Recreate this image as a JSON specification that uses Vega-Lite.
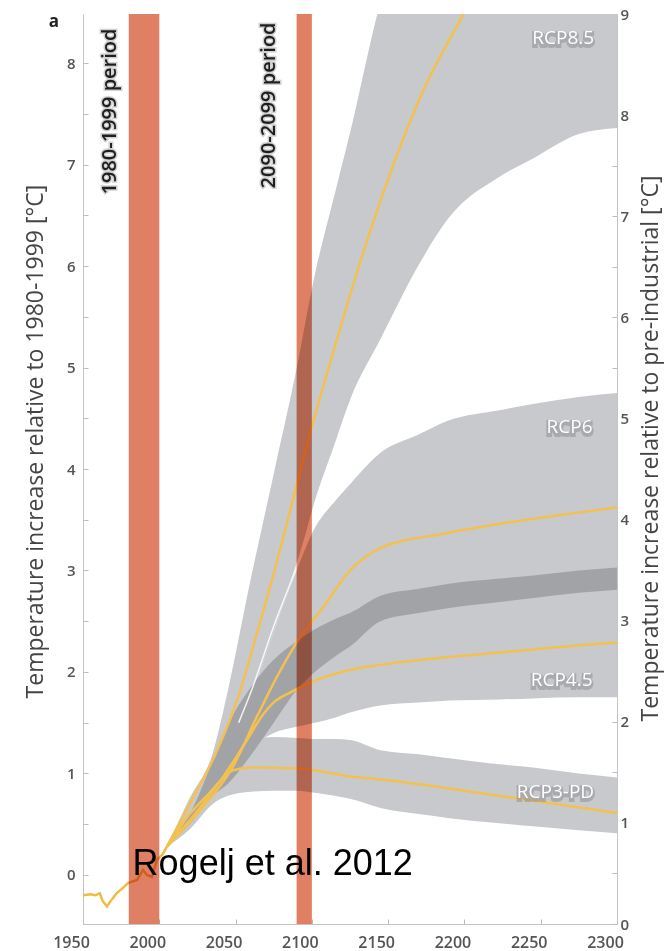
{
  "$schema": "https://vega.github.io/schema/vega-lite/v6.json",
  "width": 534,
  "height": 910,
  "autosize": {"type": "none"},
  "padding": {"left": 83, "top": 14, "right": 52, "bottom": 27},
  "background": "white",
  "config": {"view": {"stroke": null}, "font": "Open Sans"},
  "datasets": {
    "bands": [
      {"s": "RCP8.5", "year": 2005, "lo": 0.28, "hi": 0.28},
      {"s": "RCP8.5", "year": 2020, "lo": 0.55, "hi": 0.76},
      {"s": "RCP8.5", "year": 2035, "lo": 0.95, "hi": 1.2},
      {"s": "RCP8.5", "year": 2045, "lo": 1.25, "hi": 1.82},
      {"s": "RCP8.5", "year": 2060, "lo": 1.74, "hi": 2.92},
      {"s": "RCP8.5", "year": 2075, "lo": 2.4, "hi": 3.95},
      {"s": "RCP8.5", "year": 2090, "lo": 3.03, "hi": 4.99},
      {"s": "RCP8.5", "year": 2102, "lo": 3.69, "hi": 5.92},
      {"s": "RCP8.5", "year": 2115, "lo": 4.25, "hi": 6.71},
      {"s": "RCP8.5", "year": 2125, "lo": 4.68, "hi": 7.31},
      {"s": "RCP8.5", "year": 2145, "lo": 5.28, "hi": 8.6},
      {"s": "RCP8.5", "year": 2170, "lo": 6.01, "hi": 9.6},
      {"s": "RCP8.5", "year": 2190, "lo": 6.48, "hi": 10.2},
      {"s": "RCP8.5", "year": 2223, "lo": 6.88, "hi": 10.8},
      {"s": "RCP8.5", "year": 2245, "lo": 7.06, "hi": 11.1},
      {"s": "RCP8.5", "year": 2275, "lo": 7.3, "hi": 11.5},
      {"s": "RCP8.5", "year": 2300, "lo": 7.36, "hi": 11.8},
      {"s": "RCP6", "year": 2005, "lo": 0.28, "hi": 0.28},
      {"s": "RCP6", "year": 2020, "lo": 0.5, "hi": 0.55},
      {"s": "RCP6", "year": 2035, "lo": 0.78, "hi": 0.95},
      {"s": "RCP6", "year": 2045, "lo": 0.9, "hi": 1.25},
      {"s": "RCP6", "year": 2060, "lo": 1.18, "hi": 1.74},
      {"s": "RCP6", "year": 2075, "lo": 1.5, "hi": 2.4},
      {"s": "RCP6", "year": 2090, "lo": 1.82, "hi": 3.0},
      {"s": "RCP6", "year": 2102, "lo": 2.0, "hi": 3.42},
      {"s": "RCP6", "year": 2115, "lo": 2.15, "hi": 3.68},
      {"s": "RCP6", "year": 2125, "lo": 2.25, "hi": 3.85},
      {"s": "RCP6", "year": 2145, "lo": 2.5, "hi": 4.16},
      {"s": "RCP6", "year": 2170, "lo": 2.58, "hi": 4.34},
      {"s": "RCP6", "year": 2190, "lo": 2.63, "hi": 4.48},
      {"s": "RCP6", "year": 2223, "lo": 2.69, "hi": 4.58},
      {"s": "RCP6", "year": 2245, "lo": 2.73, "hi": 4.64},
      {"s": "RCP6", "year": 2275, "lo": 2.78, "hi": 4.71},
      {"s": "RCP6", "year": 2300, "lo": 2.81, "hi": 4.75},
      {"s": "RCP4.5", "year": 2005, "lo": 0.28, "hi": 0.28},
      {"s": "RCP4.5", "year": 2020, "lo": 0.5, "hi": 0.6},
      {"s": "RCP4.5", "year": 2035, "lo": 0.8, "hi": 1.12},
      {"s": "RCP4.5", "year": 2045, "lo": 0.95, "hi": 1.48},
      {"s": "RCP4.5", "year": 2060, "lo": 1.25, "hi": 1.85},
      {"s": "RCP4.5", "year": 2075, "lo": 1.4, "hi": 2.12},
      {"s": "RCP4.5", "year": 2090, "lo": 1.46, "hi": 2.3},
      {"s": "RCP4.5", "year": 2102, "lo": 1.5, "hi": 2.42},
      {"s": "RCP4.5", "year": 2115, "lo": 1.55, "hi": 2.52},
      {"s": "RCP4.5", "year": 2125, "lo": 1.6, "hi": 2.58},
      {"s": "RCP4.5", "year": 2145, "lo": 1.67, "hi": 2.75},
      {"s": "RCP4.5", "year": 2170, "lo": 1.7, "hi": 2.82},
      {"s": "RCP4.5", "year": 2190, "lo": 1.72, "hi": 2.87},
      {"s": "RCP4.5", "year": 2223, "lo": 1.73, "hi": 2.92},
      {"s": "RCP4.5", "year": 2245, "lo": 1.74, "hi": 2.95},
      {"s": "RCP4.5", "year": 2275, "lo": 1.75, "hi": 3.0},
      {"s": "RCP4.5", "year": 2300, "lo": 1.75, "hi": 3.03},
      {"s": "RCP3-PD", "year": 2005, "lo": 0.28, "hi": 0.28},
      {"s": "RCP3-PD", "year": 2020, "lo": 0.45, "hi": 0.6},
      {"s": "RCP3-PD", "year": 2035, "lo": 0.7, "hi": 0.95},
      {"s": "RCP3-PD", "year": 2045, "lo": 0.78, "hi": 1.2},
      {"s": "RCP3-PD", "year": 2060, "lo": 0.82, "hi": 1.33},
      {"s": "RCP3-PD", "year": 2075, "lo": 0.83, "hi": 1.36},
      {"s": "RCP3-PD", "year": 2090, "lo": 0.83, "hi": 1.35},
      {"s": "RCP3-PD", "year": 2102, "lo": 0.81, "hi": 1.34},
      {"s": "RCP3-PD", "year": 2115, "lo": 0.78, "hi": 1.34},
      {"s": "RCP3-PD", "year": 2125, "lo": 0.75, "hi": 1.33},
      {"s": "RCP3-PD", "year": 2145, "lo": 0.66, "hi": 1.23},
      {"s": "RCP3-PD", "year": 2170, "lo": 0.6, "hi": 1.19},
      {"s": "RCP3-PD", "year": 2190, "lo": 0.56, "hi": 1.15},
      {"s": "RCP3-PD", "year": 2223, "lo": 0.51, "hi": 1.09},
      {"s": "RCP3-PD", "year": 2245, "lo": 0.48, "hi": 1.06},
      {"s": "RCP3-PD", "year": 2275, "lo": 0.44, "hi": 1.0},
      {"s": "RCP3-PD", "year": 2300, "lo": 0.41, "hi": 0.96}
    ],
    "dark": [
      {"year": 2008, "lo": 0.33, "hi": 0.33},
      {"year": 2020, "lo": 0.5, "hi": 0.6},
      {"year": 2035, "lo": 0.78, "hi": 1.12},
      {"year": 2045, "lo": 0.9, "hi": 1.48},
      {"year": 2060, "lo": 1.18, "hi": 1.85},
      {"year": 2075, "lo": 1.5, "hi": 2.12},
      {"year": 2090, "lo": 1.82, "hi": 2.3},
      {"year": 2102, "lo": 2.0, "hi": 2.42},
      {"year": 2115, "lo": 2.15, "hi": 2.52},
      {"year": 2125, "lo": 2.25, "hi": 2.58},
      {"year": 2145, "lo": 2.5, "hi": 2.75},
      {"year": 2170, "lo": 2.58, "hi": 2.82},
      {"year": 2190, "lo": 2.63, "hi": 2.87},
      {"year": 2223, "lo": 2.69, "hi": 2.92},
      {"year": 2245, "lo": 2.73, "hi": 2.95},
      {"year": 2275, "lo": 2.78, "hi": 3.0},
      {"year": 2300, "lo": 2.81, "hi": 3.03}
    ],
    "whiteline": [
      {"year": 2052, "t": 1.5},
      {"year": 2060, "t": 1.8},
      {"year": 2075, "t": 2.45},
      {"year": 2090, "t": 3.05},
      {"year": 2100, "t": 3.55}
    ],
    "hist": [
      {"year": 1950, "t": -0.2},
      {"year": 1955, "t": -0.19},
      {"year": 1958, "t": -0.2},
      {"year": 1961, "t": -0.18},
      {"year": 1963, "t": -0.26},
      {"year": 1965.7, "t": -0.31},
      {"year": 1968, "t": -0.26},
      {"year": 1972, "t": -0.18},
      {"year": 1976, "t": -0.13},
      {"year": 1979.5, "t": -0.08},
      {"year": 1985.4, "t": -0.05},
      {"year": 1989.3, "t": 0.05},
      {"year": 1992, "t": 0.0},
      {"year": 1995.2, "t": -0.02},
      {"year": 1998.5, "t": 0.15},
      {"year": 2002, "t": 0.2},
      {"year": 2005, "t": 0.28}
    ],
    "lines": [
      {"s": "RCP8.5", "year": 2005, "t": 0.28},
      {"s": "RCP8.5", "year": 2020, "t": 0.7},
      {"s": "RCP8.5", "year": 2038, "t": 1.23},
      {"s": "RCP8.5", "year": 2051, "t": 1.72},
      {"s": "RCP8.5", "year": 2064, "t": 2.38},
      {"s": "RCP8.5", "year": 2077, "t": 3.08},
      {"s": "RCP8.5", "year": 2088, "t": 3.72},
      {"s": "RCP8.5", "year": 2097, "t": 4.25},
      {"s": "RCP8.5", "year": 2114, "t": 5.15},
      {"s": "RCP8.5", "year": 2131.5, "t": 6.03},
      {"s": "RCP8.5", "year": 2153, "t": 6.98},
      {"s": "RCP8.5", "year": 2173, "t": 7.73},
      {"s": "RCP8.5", "year": 2199, "t": 8.47},
      {"s": "RCP8.5", "year": 2220, "t": 9.05},
      {"s": "RCP6", "year": 2005, "t": 0.28},
      {"s": "RCP6", "year": 2027, "t": 0.64},
      {"s": "RCP6", "year": 2048, "t": 1.06},
      {"s": "RCP6", "year": 2064, "t": 1.56},
      {"s": "RCP6", "year": 2077, "t": 1.95},
      {"s": "RCP6", "year": 2090, "t": 2.29},
      {"s": "RCP6", "year": 2107, "t": 2.63},
      {"s": "RCP6", "year": 2125, "t": 3.0},
      {"s": "RCP6", "year": 2145, "t": 3.22},
      {"s": "RCP6", "year": 2189, "t": 3.37},
      {"s": "RCP6", "year": 2232, "t": 3.48},
      {"s": "RCP6", "year": 2300, "t": 3.62},
      {"s": "RCP4.5", "year": 2005, "t": 0.28},
      {"s": "RCP4.5", "year": 2027, "t": 0.67},
      {"s": "RCP4.5", "year": 2042, "t": 0.97},
      {"s": "RCP4.5", "year": 2057.5, "t": 1.33},
      {"s": "RCP4.5", "year": 2068, "t": 1.58},
      {"s": "RCP4.5", "year": 2075, "t": 1.7},
      {"s": "RCP4.5", "year": 2086, "t": 1.8},
      {"s": "RCP4.5", "year": 2103, "t": 1.92},
      {"s": "RCP4.5", "year": 2125, "t": 2.02},
      {"s": "RCP4.5", "year": 2145, "t": 2.07},
      {"s": "RCP4.5", "year": 2221, "t": 2.19},
      {"s": "RCP4.5", "year": 2300, "t": 2.29},
      {"s": "RCP3-PD", "year": 2005, "t": 0.28},
      {"s": "RCP3-PD", "year": 2020, "t": 0.6},
      {"s": "RCP3-PD", "year": 2033, "t": 0.81},
      {"s": "RCP3-PD", "year": 2048, "t": 1.03},
      {"s": "RCP3-PD", "year": 2060, "t": 1.06},
      {"s": "RCP3-PD", "year": 2092, "t": 1.05},
      {"s": "RCP3-PD", "year": 2125, "t": 0.97},
      {"s": "RCP3-PD", "year": 2145, "t": 0.94},
      {"s": "RCP3-PD", "year": 2232, "t": 0.76},
      {"s": "RCP3-PD", "year": 2300, "t": 0.61}
    ],
    "periods": [
      {"year": 1980, "year2": 2000, "label": "1980-1999 period", "lx": 1967.7, "ly": 8.34},
      {"year": 2090, "year2": 2100, "label": "2090-2099 period", "lx": 2071.6, "ly": 8.4}
    ],
    "rcplabels": [
      {"label": "RCP8.5", "year": 2285, "t": 8.25},
      {"label": "RCP6", "year": 2284, "t": 4.41},
      {"label": "RCP4.5", "year": 2284, "t": 1.92},
      {"label": "RCP3-PD", "year": 2285, "t": 0.82}
    ],
    "notes": [
      {"label": "a", "year": 1931, "t": 8.4, "kind": "panel"},
      {"label": "Rogelj et al. 2012", "year": 1982.5, "t": 0.0, "kind": "credit"}
    ]
  },
  "layer": [
    {
      "layer": [
        {
          "data": {"name": "bands"},
          "mark": {"type": "area", "color": "#c8c9cc", "interpolate": "monotone", "clip": true, "opacity": 1},
          "encoding": {
            "x": {"field": "year", "type": "quantitative",
              "scale": {"domain": [1950, 2300], "nice": false, "zero": false},
              "axis": {"title": null, "values": [1950, 2000, 2050, 2100, 2150, 2200, 2250, 2300], "format": "d",
                "labelFontSize": 16, "labelFontWeight": 600, "labelColor": "#555", "labelOffset": -12,
                "labelBaseline": "alphabetic", "labelPadding": 28, "tickSize": -5, "tickColor": "#bbb",
                "domainColor": "#c4c4c4", "grid": false, "labelFlush": false, "labelOverlap": false}},
            "y": {"field": "lo", "type": "quantitative",
              "scale": {"domain": [-0.483, 8.483], "nice": false, "zero": false},
              "axis": {"orient": "left", "values": [0, 0.5, 1, 1.5, 2, 2.5, 3, 3.5, 4, 4.5, 5, 5.5, 6, 6.5, 7, 7.5, 8],
                "labelExpr": "datum.value % 1 == 0 ? format(datum.value, 'd') : ''",
                "title": "Temperature increase relative to 1980-1999 [°C]",
                "titleFontSize": 23, "titleFontWeight": "normal", "titleColor": "#444",
                "titleX": -48, "titleY": 427, "titleAngle": 270, "titleAlign": "center", "titleBaseline": "middle",
                "labelFontSize": 15, "labelFontWeight": 600, "labelColor": "#555", "labelPadding": 13,
                "tickSize": -5, "tickColor": "#bbb", "domainColor": "#c4c4c4", "grid": false, "labelFlush": false}},
            "y2": {"field": "hi"},
            "detail": {"field": "s"}
          }
        },
        {
          "data": {"name": "dark"},
          "mark": {"type": "area", "color": "#a2a3a7", "interpolate": "monotone", "clip": true},
          "encoding": {
            "x": {"field": "year", "type": "quantitative"},
            "y": {"field": "lo", "type": "quantitative"},
            "y2": {"field": "hi"}
          }
        },
        {
          "data": {"name": "whiteline"},
          "mark": {"type": "line", "color": "white", "strokeWidth": 1.5, "opacity": 0.85, "interpolate": "monotone"},
          "encoding": {
            "x": {"field": "year", "type": "quantitative"},
            "y": {"field": "t", "type": "quantitative"}
          }
        },
        {
          "data": {"name": "hist"},
          "mark": {"type": "line", "color": "#f0bb45", "strokeWidth": 2.5, "interpolate": "linear"},
          "encoding": {
            "x": {"field": "year", "type": "quantitative"},
            "y": {"field": "t", "type": "quantitative"}
          }
        },
        {
          "data": {"name": "lines"},
          "mark": {"type": "line", "color": "#f2c150", "strokeWidth": 2.5, "interpolate": "monotone", "clip": true},
          "encoding": {
            "x": {"field": "year", "type": "quantitative"},
            "y": {"field": "t", "type": "quantitative"},
            "detail": {"field": "s"}
          }
        },
        {
          "data": {"name": "periods"},
          "mark": {"type": "rect", "color": "#df8064", "blend": "multiply"},
          "encoding": {
            "x": {"field": "year", "type": "quantitative"},
            "x2": {"field": "year2"}
          }
        },
        {
          "data": {"name": "periods"},
          "mark": {"type": "text", "angle": 270, "align": "right", "baseline": "middle", "fontSize": 20, "fontWeight": 600, "color": "#9a9a9a", "stroke": "#9a9a9a", "strokeWidth": 3, "opacity": 0.45},
          "encoding": {
            "x": {"field": "lx", "type": "quantitative"},
            "y": {"field": "ly", "type": "quantitative"},
            "text": {"field": "label"}
          }
        },
        {
          "data": {"name": "periods"},
          "mark": {"type": "text", "angle": 270, "align": "right", "baseline": "middle", "fontSize": 20, "fontWeight": 600, "color": "#1e1e1e"},
          "encoding": {
            "x": {"field": "lx", "type": "quantitative"},
            "y": {"field": "ly", "type": "quantitative"},
            "text": {"field": "label"}
          }
        },
        {
          "data": {"name": "rcplabels"},
          "mark": {"type": "text", "align": "right", "baseline": "middle", "fontSize": 19, "color": "#8c8d90", "stroke": "#8c8d90", "strokeWidth": 4, "opacity": 0.5, "dy": 2},
          "encoding": {
            "x": {"field": "year", "type": "quantitative"},
            "y": {"field": "t", "type": "quantitative"},
            "text": {"field": "label"}
          }
        },
        {
          "data": {"name": "rcplabels"},
          "mark": {"type": "text", "align": "right", "baseline": "middle", "fontSize": 19, "color": "#ffffff"},
          "encoding": {
            "x": {"field": "year", "type": "quantitative"},
            "y": {"field": "t", "type": "quantitative"},
            "text": {"field": "label"}
          }
        },
        {
          "data": {"name": "notes"},
          "transform": [{"filter": "datum.kind == 'panel'"}],
          "mark": {"type": "text", "align": "center", "baseline": "middle", "fontSize": 17, "fontWeight": "bold", "color": "#222"},
          "encoding": {
            "x": {"field": "year", "type": "quantitative"},
            "y": {"field": "t", "type": "quantitative"},
            "text": {"field": "label"}
          }
        },
        {
          "data": {"name": "notes"},
          "transform": [{"filter": "datum.kind == 'credit'"}],
          "mark": {"type": "text", "align": "left", "baseline": "alphabetic", "fontSize": 36, "font": "Liberation Sans", "color": "#000"},
          "encoding": {
            "x": {"field": "year", "type": "quantitative"},
            "y": {"field": "t", "type": "quantitative"},
            "text": {"field": "label"}
          }
        }
      ]
    },
    {
      "data": {"values": [{"v": 0}, {"v": 9}]},
      "mark": {"type": "point", "opacity": 0},
      "encoding": {
        "y": {"field": "v", "type": "quantitative",
          "scale": {"domain": [0, 9], "nice": false, "zero": false},
          "axis": {"orient": "right", "values": [0, 0.5, 1, 1.5, 2, 2.5, 3, 3.5, 4, 4.5, 5, 5.5, 6, 6.5, 7, 7.5, 8, 8.5, 9],
            "labelExpr": "datum.value % 1 == 0 ? format(datum.value, 'd') : ''",
            "title": "Temperature increase relative to pre-industrial [°C]",
            "titleFontSize": 23, "titleFontWeight": "normal", "titleColor": "#444",
            "titleX": 33, "titleY": 434, "titleAngle": 270, "titleAlign": "center", "titleBaseline": "middle",
            "labelFontSize": 15, "labelFontWeight": 600, "labelColor": "#555", "labelPadding": 8,
            "tickSize": -5, "tickColor": "#bbb", "domainColor": "#c4c4c4", "grid": false, "labelFlush": false}}
      }
    }
  ],
  "resolve": {"scale": {"y": "independent"}, "axis": {"y": "independent"}}
}
